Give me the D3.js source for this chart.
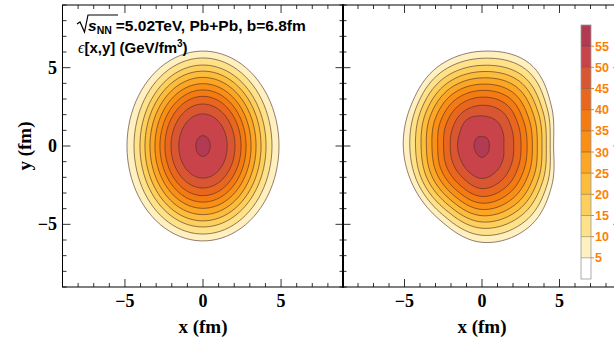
<!DOCTYPE html>
<html>
<head>
<meta charset="utf-8">
<script src="https://cdn.jsdelivr.net/npm/d3@7"></script>
<style>
  html, body { margin: 0; padding: 0; background: #fff; }
  svg { display: block; }
</style>
</head>
<body>
<svg id="chart" width="614" height="338"></svg>
<script>
// Contour levels (GeV/fm^3) and band colours: band i spans [i*5, i*5+5)
const levels = [5, 10, 15, 20, 25, 30, 35, 40, 45, 50, 55];
const bandColors = ["#ffffff", "#fff0bf", "#fee28a", "#fdd05e", "#fcbc3c", "#fba624",
                    "#f98f14", "#f47b12", "#e9661f", "#d95632", "#c8444a", "#b23a52"];
const colorbarLabels = [5, 10, 15, 20, 25, 30, 35, 40, 45, 50, 55];

const majorTicks = [-5, 0, 5];
const minorTicks = [-9, -8, -7, -6, -4, -3, -2, -1, 1, 2, 3, 4, 6, 7, 8, 9];

// Left panel: elliptic contours, semi-axes (fm) per level
const leftSemiX = [4.87, 4.42, 4.04, 3.72, 3.40, 3.08, 2.76, 2.44, 2.05, 1.55, 0.46];
const leftSemiY = [6.06, 5.62, 5.17, 4.78, 4.38, 3.98, 3.58, 3.17, 2.68, 2.05, 0.66];

// Right panel: contour radius (fm) read at these angles (deg, counter-clockwise from +x)
const rightAngles = [0, 30, 60, 90, 120, 150, 180, 210, 240, 270, 300, 330];
const rightRadii = [
  [4.62, 5.16, 6.10, 6.05, 5.80, 5.27, 5.08, 5.12, 5.45, 6.15, 6.00, 5.18],
  [4.40, 4.85, 5.65, 5.60, 5.39, 4.90, 4.66, 4.77, 5.07, 5.70, 5.55, 4.86],
  [4.15, 4.52, 5.20, 5.15, 4.98, 4.55, 4.29, 4.44, 4.70, 5.25, 5.11, 4.52],
  [3.87, 4.20, 4.79, 4.75, 4.59, 4.20, 3.93, 4.10, 4.35, 4.85, 4.71, 4.20],
  [3.57, 3.86, 4.38, 4.35, 4.21, 3.85, 3.59, 3.76, 4.00, 4.45, 4.31, 3.86],
  [3.25, 3.49, 3.96, 3.95, 3.82, 3.48, 3.23, 3.40, 3.64, 4.05, 3.90, 3.49],
  [2.91, 3.11, 3.54, 3.55, 3.42, 3.10, 2.86, 3.04, 3.27, 3.65, 3.49, 3.11],
  [2.52, 2.70, 3.09, 3.12, 2.99, 2.69, 2.48, 2.64, 2.87, 3.22, 3.05, 2.70],
  [2.05, 2.21, 2.56, 2.60, 2.49, 2.21, 2.05, 2.17, 2.39, 2.72, 2.53, 2.21],
  [1.41, 1.58, 1.86, 1.92, 1.95, 1.66, 1.58, 1.62, 1.83, 2.07, 1.86, 1.58],
  [0.47, 0.52, 0.60, 0.60, 0.62, 0.54, 0.51, 0.53, 0.62, 0.72, 0.62, 0.52]
];

const svg = d3.select('#chart');

const y = d3.scaleLinear().domain([-9, 9]).range([287, 5]);
const xLeft = d3.scaleLinear().domain([-9, 9]).range([62.5, 343.5]);
const xRight = d3.scaleLinear().domain([-9, 9]).range([342.5, 621.5]);

const defs = svg.append('defs');
const serifBold = '"Liberation Serif", "Times New Roman", serif';
const sansBold = '"Liberation Sans", Arial, sans-serif';
const fmt = d => d < 0 ? '\u2212' + Math.abs(d) : String(d);

function drawPanel(id, x, shapes) {
  const [x0, x1] = x.range();
  const [y1, y0] = y.range();

  defs.append('clipPath').attr('id', 'clip-' + id)
    .append('rect').attr('x', x0).attr('y', y0).attr('width', x1 - x0).attr('height', y1 - y0);

  const g = svg.append('g').attr('clip-path', 'url(#clip-' + id + ')');

  const line = d3.line()
    .x(d => x(d[0]))
    .y(d => y(d[1]))
    .curve(d3.curveLinearClosed);

  g.selectAll('path.contour')
    .data(shapes)
    .enter().append('path')
    .attr('class', 'contour')
    .attr('d', d => line(d))
    .attr('fill', (d, i) => bandColors[i + 1])
    .attr('stroke', '#4b2a22')
    .attr('stroke-opacity', 0.75)
    .attr('stroke-width', 0.8);

  // frame
  svg.append('rect')
    .attr('x', x0).attr('y', y0).attr('width', x1 - x0).attr('height', y1 - y0)
    .attr('fill', 'none').attr('stroke', '#000').attr('stroke-width', 1);

  const ticks = svg.append('g').attr('stroke', '#000').attr('stroke-width', 0.8);
  const addTicks = (vals, len) => {
    vals.forEach(v => {
      ticks.append('line').attr('x1', x(v)).attr('x2', x(v)).attr('y1', y1).attr('y2', y1 - len);
      ticks.append('line').attr('x1', x(v)).attr('x2', x(v)).attr('y1', y0).attr('y2', y0 + len);
      ticks.append('line').attr('y1', y(v)).attr('y2', y(v)).attr('x1', x0).attr('x2', x0 + len);
      ticks.append('line').attr('y1', y(v)).attr('y2', y(v)).attr('x1', x1).attr('x2', x1 - len);
    });
  };
  addTicks(majorTicks, 8);
  addTicks(minorTicks, 4);

  // x tick labels
  svg.append('g').selectAll('text')
    .data(majorTicks)
    .enter().append('text')
    .attr('x', d => x(d))
    .attr('y', 307)
    .attr('text-anchor', 'middle')
    .attr('font-family', serifBold)
    .attr('font-weight', 'bold')
    .attr('font-size', 18)
    .text(fmt);

  svg.append('text')
    .attr('x', x(0))
    .attr('y', 333)
    .attr('text-anchor', 'middle')
    .attr('font-family', serifBold)
    .attr('font-weight', 'bold')
    .attr('font-size', 19)
    .text('x (fm)');
}

const rad = Math.PI / 180;
const ellipseSteps = d3.range(0, 360, 4);
const leftShapes = leftSemiX.map((a, i) =>
  ellipseSteps.map(t => [a * Math.cos(t * rad), leftSemiY[i] * Math.sin(t * rad)]));

// smooth closed outline through the read radii: periodic Catmull-Rom on r(angle)
function polarOutline(radii, angles) {
  const n = radii.length, pts = [], sub = 10;
  for (let i = 0; i < n; i++) {
    const r0 = radii[(i - 1 + n) % n], r1 = radii[i], r2 = radii[(i + 1) % n], r3 = radii[(i + 2) % n];
    const a1 = angles[i], a2 = i + 1 < n ? angles[i + 1] : angles[0] + 360;
    for (let k = 0; k < sub; k++) {
      const t = k / sub, t2 = t * t, t3 = t2 * t;
      const r = 0.5 * (2 * r1 + (-r0 + r2) * t + (2 * r0 - 5 * r1 + 4 * r2 - r3) * t2 + (-r0 + 3 * r1 - 3 * r2 + r3) * t3);
      const a = (a1 + (a2 - a1) * t) * rad;
      pts.push([r * Math.cos(a), r * Math.sin(a)]);
    }
  }
  return pts;
}
const rightShapes = rightRadii.map(radii => polarOutline(radii, rightAngles));

drawPanel('left', xLeft, leftShapes);
drawPanel('right', xRight, rightShapes);

// y tick labels (left panel only)
svg.append('g').selectAll('text')
  .data(majorTicks)
  .enter().append('text')
  .attr('x', 57)
  .attr('y', d => y(d) + 6)
  .attr('text-anchor', 'end')
  .attr('font-family', serifBold)
  .attr('font-weight', 'bold')
  .attr('font-size', 18)
  .text(fmt);

svg.append('text')
  .attr('transform', 'translate(31,146) rotate(-90)')
  .attr('text-anchor', 'middle')
  .attr('font-family', serifBold)
  .attr('font-weight', 'bold')
  .attr('font-size', 19)
  .text('y (fm)');

// Annotation in the left panel
svg.append('path')
  .attr('d', 'M77,24 L80,22 L84.5,32 L88,15 L118,15')
  .attr('fill', 'none').attr('stroke', '#000').attr('stroke-width', 1.2);
const t1 = svg.append('text')
  .attr('x', 88).attr('y', 31)
  .attr('font-family', sansBold).attr('font-weight', 'bold').attr('font-size', 15.5);
t1.append('tspan').attr('font-style', 'italic').text('s');
t1.append('tspan').attr('font-size', 10.5).attr('dy', 3).text('NN');
t1.append('tspan').attr('dy', -3).attr('dx', 4).text('=5.02TeV, Pb+Pb, b=6.8fm');

const t2 = svg.append('text')
  .attr('x', 78).attr('y', 53)
  .attr('font-family', sansBold).attr('font-weight', 'bold').attr('font-size', 15);
t2.append('tspan').attr('font-family', '"Liberation Serif", serif').attr('font-style', 'italic')
  .attr('font-weight', 'normal').attr('font-size', 16).text('\u03f5');
t2.append('tspan').text('[x,y] (GeV/fm');
t2.append('tspan').attr('font-size', 10).attr('dy', -6).text('3');
t2.append('tspan').attr('dy', 6).text(')');

// Colour bar
const cbTop = 25, cbBottom = 279, cbX = 581, cbW = 10;
const cbScale = d3.scaleLinear().domain([0, 60]).range([cbBottom, cbTop]);
const cb = svg.append('g');
cb.selectAll('rect')
  .data(bandColors)
  .enter().append('rect')
  .attr('x', cbX)
  .attr('y', (d, i) => cbScale((i + 1) * 5))
  .attr('width', cbW)
  .attr('height', (d, i) => cbScale(i * 5) - cbScale((i + 1) * 5))
  .attr('fill', d => d);
cb.selectAll('line.div')
  .data(colorbarLabels)
  .enter().append('line')
  .attr('class', 'div')
  .attr('x1', cbX).attr('x2', cbX + cbW)
  .attr('y1', d => cbScale(d)).attr('y2', d => cbScale(d))
  .attr('stroke', '#000').attr('stroke-opacity', 0.35).attr('stroke-width', 0.8);
cb.append('rect')
  .attr('x', cbX).attr('y', cbTop).attr('width', cbW).attr('height', cbBottom - cbTop)
  .attr('fill', 'none').attr('stroke', '#999').attr('stroke-width', 0.8);
cb.selectAll('line.tick')
  .data(colorbarLabels)
  .enter().append('line')
  .attr('class', 'tick')
  .attr('x1', cbX + cbW).attr('x2', cbX + cbW + 3)
  .attr('y1', d => cbScale(d)).attr('y2', d => cbScale(d))
  .attr('stroke', '#ff8000').attr('stroke-width', 1);
cb.selectAll('text')
  .data(colorbarLabels)
  .enter().append('text')
  .attr('x', cbX + cbW + 4)
  .attr('y', d => cbScale(d) + 4.5)
  .attr('font-family', sansBold)
  .attr('font-weight', 'bold')
  .attr('font-size', 12.5)
  .attr('fill', '#ff8000')
  .text(d => d);
</script>
</body>
</html>
